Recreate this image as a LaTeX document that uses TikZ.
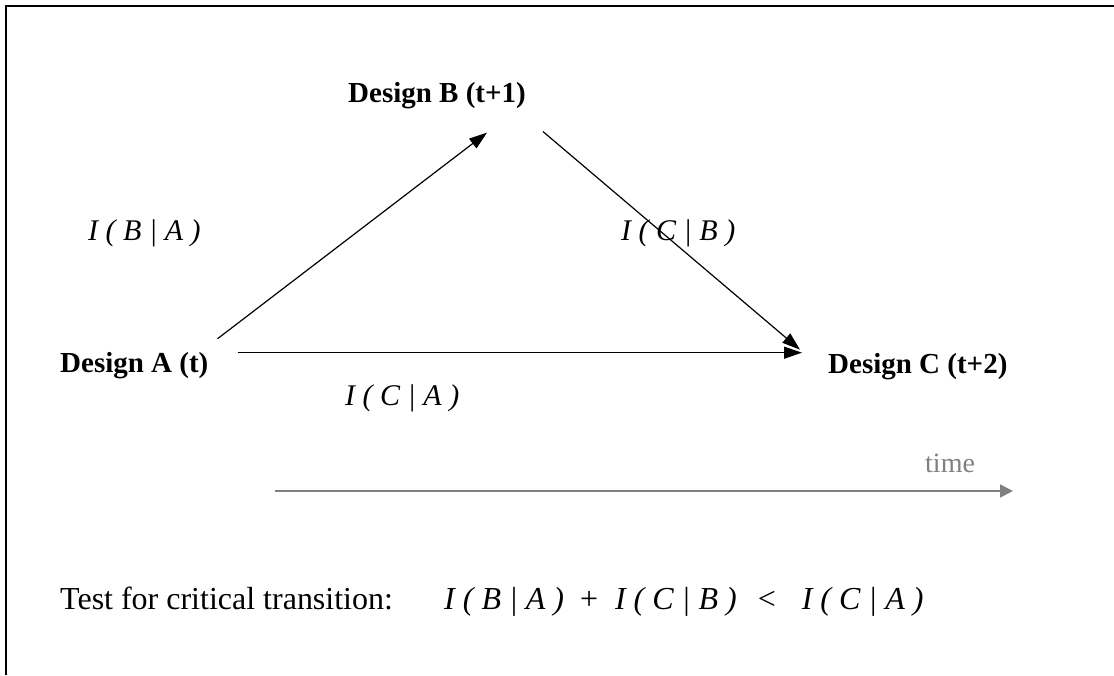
\documentclass[tikz,border=0pt]{standalone}
\usepackage{fontspec}
\setmainfont{Liberation Serif}
\usetikzlibrary{arrows.meta,positioning}
\tikzset{design/.style={font=\fontsize{29}{34}\selectfont\bfseries, inner sep=0pt, anchor=base west},
info/.style={font=\fontsize{30}{36}\selectfont\itshape, inner sep=0pt, anchor=base west},
plain/.style={font=\fontsize{32}{38}\selectfont, inner sep=0pt, anchor=base west},
link/.style={-{Triangle[length=18pt,width=12pt]}, line width=1.2pt},
timeline/.style={-{Triangle[length=13pt,width=13pt]}, line width=1.8pt, gray}
}

\begin{document}
\begin{tikzpicture}[x=1pt, y=-1pt]
        \useasboundingbox (0,0) rectangle (1114,675);
        \draw[line width=2pt] (6,675) -- (6,6) -- (1114,6);

        \node[design] (A) at (60,372)  {Design A (t)};
        \node[design] (B) at (348,102) {Design B (t+1)};
        \node[design] (C) at (828,373) {Design C (t+2)};

        \node[info] (iBA) at (88,240)  {I ( B | A )};
        \node[info] (iCB) at (621,240) {I ( C | B )};
        \node[info] (iCA) at (345,405) {I ( C | A )};

        \node[plain, gray, font=\fontsize{28}{34}\selectfont] (time) at (925,472) {time};
        \coordinate (t0) at (275,491);
        \coordinate (t1) at (1013,491);
        \draw[timeline] (t0) -- (t1);

        \node[plain] (test) at (60,609) {Test for critical transition:};
        \node[plain] (crit) at (444,609) {{\itshape I ( B | A )}\hspace{16pt}+\hspace{17pt}{\itshape I ( C | B )}\hspace{21pt}<\hspace{26pt}{\itshape I ( C | A )}};

        \path[link] ([shift={(9,-13)}]A.north east)  edge ([shift={(-39,24)}]B.south east)
                    ([shift={(29,1)}]A.north east)   edge ([shift={(-26,0)}]C.north west)
                    ([shift={(17,23)}]B.south east)  edge ([shift={(-28,-3)}]C.north west);
      \end{tikzpicture}
\end{document}
